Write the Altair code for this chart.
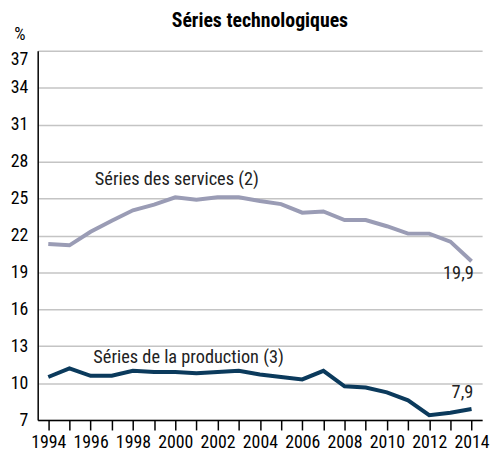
import altair as alt
import pandas as pd

years = list(range(1994, 2015))
services = [21.3, 21.2, 22.3, 23.2, 24.05, 24.5, 25.1, 24.9, 25.1, 25.1, 24.8, 24.55,
            23.85, 23.95, 23.25, 23.25, 22.75, 22.15, 22.15, 21.5, 19.9]
production = [10.5, 11.2, 10.6, 10.6, 11.0, 10.9, 10.9, 10.8, 10.9, 11.0, 10.7, 10.5,
              10.3, 11.0, 9.75, 9.65, 9.25, 8.6, 7.4, 7.6, 7.9]
series_names = ["Séries des services (2)", "Séries de la production (3)"]
series_colors = ["#9a9cb5", "#0b3a5c"]

label_text = ["Séries des services (2)", "Séries de la production (3)", "19,9", "7,9"]
label_year = [1996.2, 1996.13, 2013.38, 2013.57]
label_value = [26.6, 12.1, 18.95, 9.3]

y_ticks = [7, 10, 13, 16, 19, 22, 25, 28, 31, 34, 37]
unit_label = "%"

FONT = "Roboto Condensed, Liberation Sans Narrow, DejaVu Sans Condensed, sans-serif"

df = pd.DataFrame({
    "year": years * 2,
    "value": services + production,
    "series": [series_names[0]] * len(years) + [series_names[1]] * len(years),
})
lab = pd.DataFrame({"year": label_year, "value": label_value, "text": label_text})

xscale = alt.Scale(domain=[1993.5, 2014.5], nice=False, zero=False)
yscale = alt.Scale(domain=[7, 37], nice=False, zero=False)

xaxis = alt.Axis(values=years, labelExpr="datum.value % 2 == 0 ? datum.value : ''",
                 title=None, grid=False, tickSize=10, tickColor="#000", tickWidth=1.5,
                 domainColor="#000", domainWidth=1.5, labelPadding=4,
                 labelFontSize=18, labelFont=FONT, labelColor="#000",
                 labelFlush=False, labelOverlap=False)
yaxis = alt.Axis(values=y_ticks, title=None,
                 grid=True, gridColor="#c4c4c4", gridWidth=1.5, tickSize=0,
                 domainColor="#000", domainWidth=1.5, labelPadding=10,
                 labelFontSize=18, labelFont=FONT, labelColor="#000",
                 labelBaseline={"condition": {"test": "datum.value == 37", "value": "top"},
                                "value": "middle"},
                 labelOverlap=False)

X = alt.X("year:Q", scale=xscale, axis=xaxis)
Y = alt.Y("value:Q", scale=yscale, axis=yaxis)

lines = alt.Chart(df).mark_line(strokeWidth=4, strokeJoin="miter").encode(
    x=X, y=Y,
    color=alt.Color("series:N", scale=alt.Scale(domain=series_names, range=series_colors), legend=None),
    detail="series:N",
)

texts_left = alt.Chart(lab.iloc[:2]).mark_text(fontSize=18.5, font=FONT, baseline="middle", align="left", color="#222").encode(
    x=X, y=Y, text="text:N")
texts_center = alt.Chart(lab.iloc[2:]).mark_text(fontSize=18.5, font=FONT, baseline="middle", align="center", color="#222").encode(
    x=X, y=Y, text="text:N")

unit = alt.Chart(pd.DataFrame({"t": [unit_label]})).mark_text(
    fontSize=18, font=FONT, baseline="alphabetic", align="center", color="#000"
).encode(x=alt.value(-18), y=alt.value(-11), text="t:N")

chart = alt.layer(lines, texts_left, texts_center, unit).properties(
    width=449, height=373,
    title=alt.TitleParams("Séries technologiques", font=FONT, fontSize=20, fontWeight="bold",
                          anchor="middle", offset=-5, color="#000"),
    autosize=alt.AutoSizeParams(type="none"),
    padding={"left": 30, "top": 41, "right": 12, "bottom": 35},
).configure_view(stroke=None)

chart.save("out.html", embed_options={"renderer": "svg", "actions": False})
